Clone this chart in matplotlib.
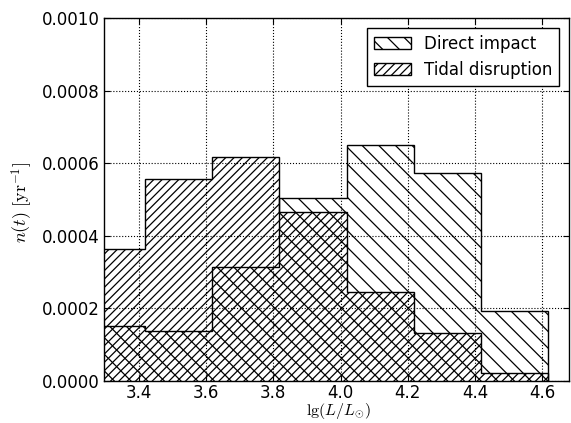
import matplotlib
matplotlib.use("Agg")
import matplotlib.pyplot as plt
import numpy as np

plt.rcParams['mathtext.fontset'] = 'cm'
plt.rcParams['hatch.linewidth'] = 0.9
plt.rcParams['font.family'] = ['DejaVu Sans']

bin_edges = [3.218, 3.418, 3.618, 3.818, 4.018, 4.218, 4.418, 4.618]
direct_impact = [0.000152, 0.000138, 0.000314, 0.000504, 0.000650, 0.000573, 0.000193]
tidal_disruption = [0.000364, 0.000556, 0.000617, 0.000466, 0.000245, 0.000132, 0.000022]
x_ticks = [3.4, 3.6, 3.8, 4.0, 4.2, 4.4, 4.6]
y_ticks = [0.0, 0.0002, 0.0004, 0.0006, 0.0008, 0.0010]

fig = plt.figure(figsize=(5.71, 4.23), dpi=100)
ax = fig.add_axes([104/571, 1-381/423, (569-104)/571, (381-18)/423])

ax.stairs(direct_impact, bin_edges, fill=True, facecolor='none', edgecolor='black',
          hatch='\\\\', linewidth=1.0, label='Direct impact')
ax.stairs(tidal_disruption, bin_edges, fill=True, facecolor='none', edgecolor='black',
          hatch='////', linewidth=1.0, label='Tidal disruption')

ax.set_xlim(3.296, 4.68)
ax.set_ylim(0, 0.001)
ax.set_xticks(x_ticks)
ax.set_xticklabels([f"{v:.1f}" for v in x_ticks])
ax.set_yticks(y_ticks)
ax.set_yticklabels([f"{v:.4f}" for v in y_ticks])
ax.tick_params(direction='in', top=True, right=True, length=4, width=0.8, labelsize=12, pad=3)
ax.tick_params(axis='x', pad=2)
ax.grid(True, color='black', linestyle=':', linewidth=0.8)
ax.set_axisbelow(True)
for s in ax.spines.values():
    s.set_linewidth(1.0)

ax.set_xlabel(r'$\lg(L/L_{\odot})$', fontsize=11.5)
ax.xaxis.set_label_coords(0.505, -0.055)
ax.set_ylabel(r'$n(t)\ [\mathrm{yr}^{-1}]$', fontsize=13)
ax.yaxis.set_label_coords(-0.148, 0.493)

leg = ax.legend(loc='upper right', fontsize=12, fancybox=False, framealpha=1,
                edgecolor='black', handlelength=2.2, borderaxespad=0.6)
leg.get_frame().set_linewidth(1.0)

fig.savefig('out.png', dpi=100, facecolor='white')
